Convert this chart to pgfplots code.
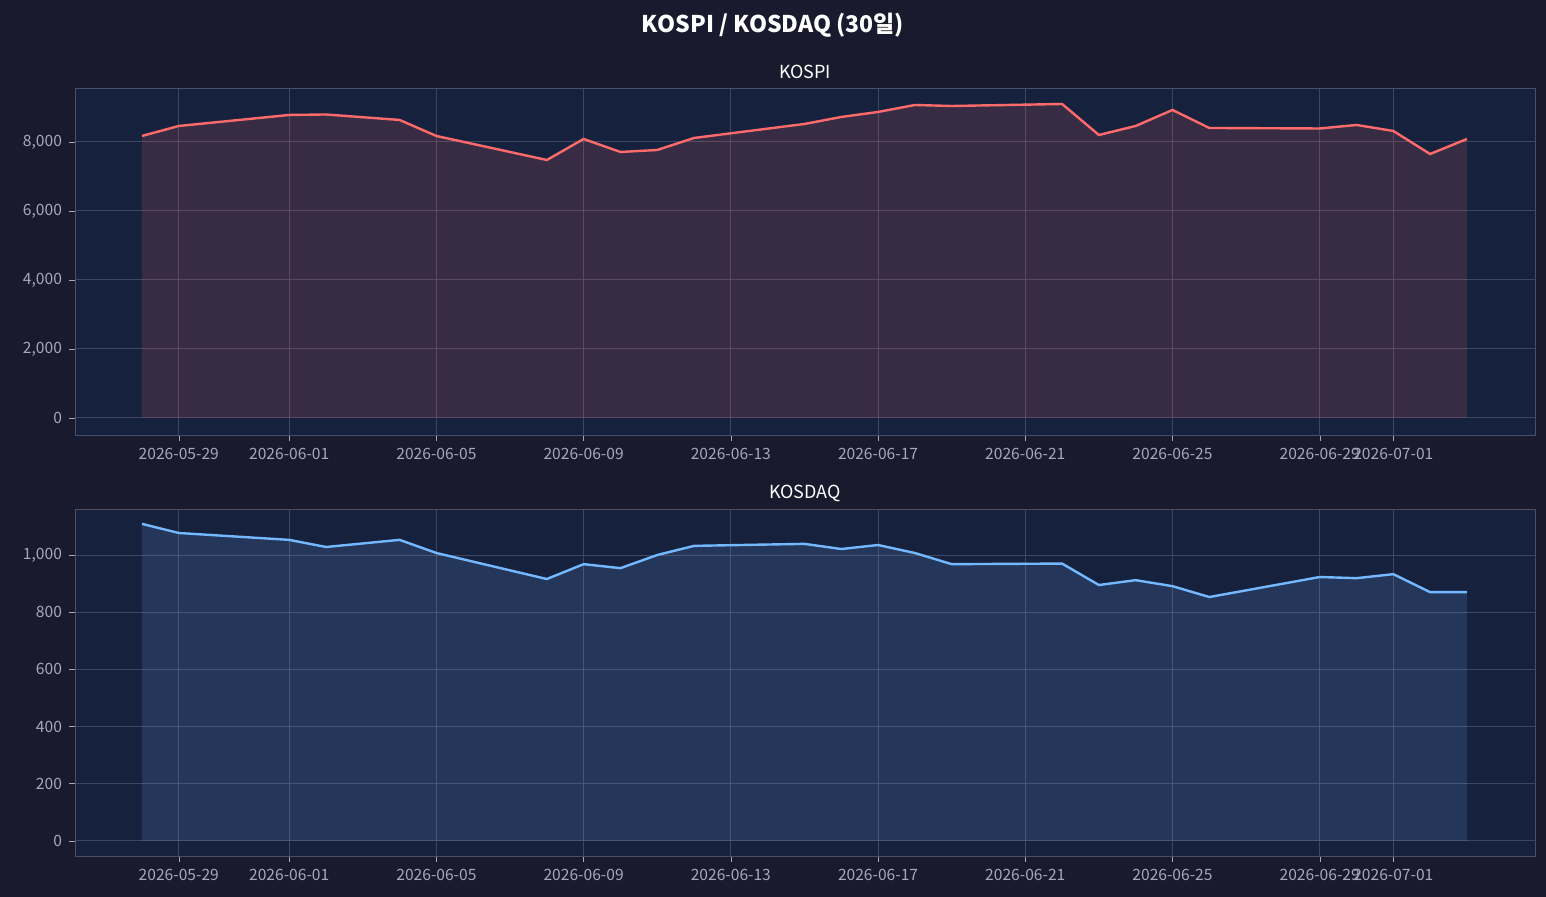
\documentclass[border=0pt]{standalone}
\usepackage{fontspec}
\setmainfont{Noto Sans CJK KR}
\usepackage{pgfplots}
\usepackage{pgfplotstable}
\pgfplotsset{compat=1.18}
\definecolor{figbg}{HTML}{1A1A2E}
\definecolor{axbg}{HTML}{16213E}
\definecolor{kred}{HTML}{FF6B6B}
\definecolor{kblue}{HTML}{74B9FF}
\definecolor{tickc}{HTML}{A8A8B8}
\definecolor{gridc}{HTML}{4A5068}
\pgfplotstableread{
d v
0 8174
1 8464
4 8783
5 8797
7 8638
8 8174
11 7478
12 8087
13 7710
14 7768
15 8116
18 8522
19 8725
20 8870
21 9072
22 9043
25 9101
26 8203
27 8464
28 8928
29 8406
32 8391
33 8493
34 8319
35 7652
36 8087
}\kospi
\pgfplotstableread{
d v
0 1109
1 1077
4 1053
5 1028
7 1053
8 1007
11 916
12 968
13 954
14 1000
15 1032
18 1039
19 1021
20 1035
21 1007
22 968
25 970
26 895
27 912
28 891
29 853
32 923
33 919
34 933
35 870
36 870
}\kosdaq
\pgfplotsset{myax/.style={
  scale only axis, width=730pt, height=173.5pt, anchor=south west,
  xmin=-1.82, xmax=37.85,
  axis background/.style={fill=axbg},
  axis line style={draw=gridc},
  xtick={1,4,8,12,16,20,24,28,32,34},
  xticklabels={2026-05-29,2026-06-01,2026-06-05,2026-06-09,2026-06-13,2026-06-17,2026-06-21,2026-06-25,2026-06-29,2026-07-01},
  grid=major, major grid style={draw=gridc, line width=0.5pt, opacity=0.8},
  tick align=outside, major tick length=3pt, tick style={draw=tickc},
  ticklabel style={font=\fontsize{7.8}{9}\selectfont, text=tickc},
  /pgf/number format/assume math mode=true,
  /pgf/number format/1000 sep={,},
  scaled y ticks=false,
  xtick pos=bottom, ytick pos=left,
}}
\begin{document}
\begin{tikzpicture}
\fill[figbg] (0,0) rectangle (773pt,448.5pt);
\node[text=white, font=\bfseries\fontsize{11.5}{13}\selectfont] at (386.5pt,436pt) {KOSPI / KOSDAQ (30일)};
\node[text=white, font=\fontsize{9}{10}\selectfont] at (402.5pt,412.5pt) {KOSPI};
\node[text=white, font=\fontsize{9}{10}\selectfont] at (402.5pt,202pt) {KOSDAQ};
\begin{axis}[myax, at={(37.5pt,231pt)}, ymin=-493, ymax=9565, ytick={0,2000,4000,6000,8000}]
\addplot[draw=none, fill=kred, fill opacity=0.15] table[x=d,y=v]{\kospi} \closedcycle;
\addplot[kred, line width=1.2pt] table[x=d,y=v]{\kospi};
\end{axis}
\begin{axis}[myax, at={(37.5pt,20.5pt)}, ymin=-53, ymax=1161, ytick={0,200,400,600,800,1000}]
\addplot[draw=none, fill=kblue, fill opacity=0.15] table[x=d,y=v]{\kosdaq} \closedcycle;
\addplot[kblue, line width=1.2pt] table[x=d,y=v]{\kosdaq};
\end{axis}
\end{tikzpicture}
\end{document}
